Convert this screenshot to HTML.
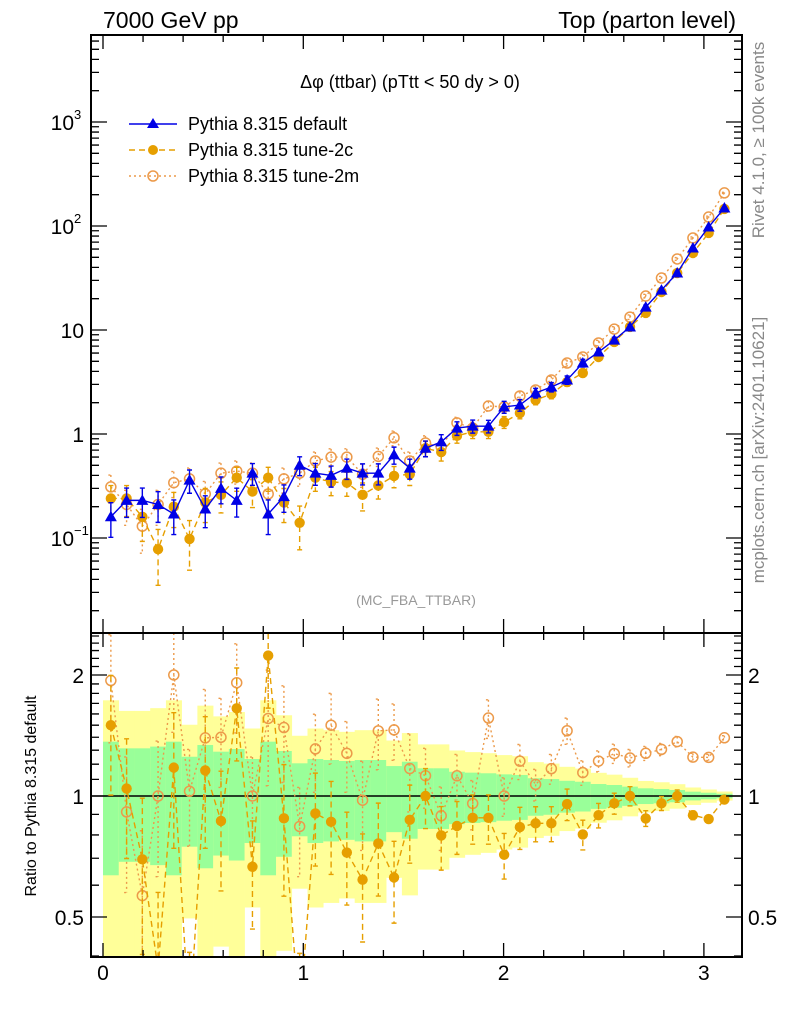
<!DOCTYPE html>
<html><head><meta charset="utf-8"><style>
html,body{margin:0;padding:0;background:#fff;width:786px;height:1024px;overflow:hidden;}
svg{display:block;font-family:"Liberation Sans",Arial,sans-serif;}
</style></head><body>
<svg id="chart" width="786" height="1024" viewBox="0 0 786 1024" xmlns="http://www.w3.org/2000/svg">
<defs>
<clipPath id="clipMain"><rect x="91" y="35" width="651" height="598"/></clipPath>
<clipPath id="clipRatio"><rect x="91" y="633" width="651" height="324"/></clipPath>
</defs>
<text x="103" y="28" font-size="23">7000 GeV pp</text>
<text x="736" y="28" font-size="23" text-anchor="end">Top (parton level)</text>
<text x="410" y="88" font-size="18" text-anchor="middle">Δφ (ttbar) (pTtt &lt; 50 dy &gt; 0)</text>
<text x="416" y="605" font-size="14" fill="#999" text-anchor="middle">(MC_FBA_TTBAR)</text>
<text transform="translate(764,140) rotate(-90)" font-size="17" fill="#888" text-anchor="middle">Rivet 4.1.0, ≥ 100k events</text>
<text transform="translate(764,450) rotate(-90)" font-size="17" fill="#888" text-anchor="middle">mcplots.cern.ch [arXiv:2401.10621]</text>
<text transform="translate(36,796) rotate(-90)" font-size="16" text-anchor="middle">Ratio to Pythia 8.315 default</text>
<g id="bands" clip-path="url(#clipRatio)"></g>
<g id="mainMarks" clip-path="url(#clipMain)"></g>
<g id="ratioMarks" clip-path="url(#clipRatio)"></g>
<g id="axes"></g>
<g id="legend">
  <g>
    <line x1="129" y1="124" x2="177" y2="124" stroke="#0000e6" stroke-width="1.6"/>
    <polygon points="153,118 159,128 147,128" fill="#0000e6"/>
    <text x="188" y="130" font-size="18">Pythia 8.315 default</text>
  </g>
  <g>
    <line x1="129" y1="150" x2="177" y2="150" stroke="#e69f00" stroke-width="1.4" stroke-dasharray="6,4"/>
    <circle cx="153" cy="150" r="5" fill="#e69f00"/>
    <text x="188" y="156" font-size="18">Pythia 8.315 tune-2c</text>
  </g>
  <g>
    <line x1="129" y1="176" x2="177" y2="176" stroke="#ec9a4a" stroke-width="1.4" stroke-dasharray="2,3"/>
    <circle cx="153" cy="176" r="5" fill="none" stroke="#ec9a4a" stroke-width="1.5"/>
    <text x="188" y="182" font-size="18">Pythia 8.315 tune-2m</text>
  </g>
</g>
</svg>
<script>
const nBins = 40;
const xMax = Math.PI;
const valDefault = [0.16,0.23,0.23,0.21,0.17,0.36,0.19,0.30,0.23,0.42,0.17,0.25,0.50,0.42,0.40,0.47,0.42,0.42,0.63,0.47,0.73,0.84,1.14,1.19,1.19,1.82,1.90,2.48,2.83,3.31,4.81,6.14,8.0,10.7,16.6,24.2,35.3,61.4,97.8,149];
const valTune2c = [0.24,0.24,0.16,0.078,0.20,0.098,0.22,0.26,0.38,0.28,0.38,0.22,0.14,0.38,0.345,0.34,0.26,0.32,0.395,0.41,0.73,0.67,0.96,1.05,1.05,1.30,1.59,2.12,2.42,3.16,3.86,5.5,7.67,10.7,14.6,23.2,35.3,55,85.7,146];
const valTune2m = [0.31,0.21,0.13,0.21,0.34,0.37,0.265,0.42,0.44,0.42,0.265,0.37,0.42,0.55,0.60,0.60,0.41,0.61,0.92,0.55,0.82,0.75,1.28,1.14,1.86,1.82,2.32,2.65,3.31,4.81,5.5,7.5,10.2,13.3,21.2,31.6,48.2,76.7,122,208];
const relErrDefault = [0.365,0.314,0.314,0.327,0.365,0.252,0.339,0.289,0.309,0.236,0.365,0.294,0.206,0.236,0.229,0.222,0.229,0.229,0.187,0.217,0.172,0.172,0.149,0.143,0.139,0.132,0.128,0.107,0.102,0.091,0.085,0.071,0.065,0.055,0.045,0.041,0.035,0.025,0.019,0.013];
const relErrTune2c = [0.33,0.33,0.42,0.55,0.37,0.5,0.36,0.33,0.26,0.3,0.26,0.36,0.45,0.26,0.26,0.26,0.3,0.26,0.23,0.22,0.17,0.18,0.15,0.14,0.14,0.13,0.12,0.1,0.1,0.09,0.085,0.07,0.06,0.055,0.045,0.04,0.035,0.025,0.02,0.014];
const relErrTune2m = [0.3,0.37,0.45,0.37,0.28,0.27,0.32,0.25,0.25,0.25,0.32,0.27,0.25,0.22,0.2,0.2,0.25,0.2,0.16,0.22,0.17,0.18,0.13,0.14,0.11,0.11,0.1,0.09,0.085,0.075,0.07,0.06,0.055,0.05,0.04,0.035,0.03,0.022,0.018,0.012];
const xTicks = [0,1,2,3];
const mainYTicks = [-1,0,1,2,3];
const mainYLabels = ["10","1","10","10","10"];
const mainYSups = ["\u22121","","","2","3"];
const ratioTicks = [0.5,1,2];
const ratioLabels = ["0.5","1","2"];

const NS = "http://www.w3.org/2000/svg";
const L = 91, R = 742, MT = 35, MB = 633, RB = 957;
function xs(v){ return 103 + 200.3*v; }
function ym(v){ return 434 - 104*Math.log10(v); }
function yr(v){ return 796 - 402*Math.log10(Math.max(v,1e-3)); }
function clamp(y, lo, hi){ return Math.min(hi, Math.max(lo, y)); }
function el(tag, attrs, parent){
  const e = document.createElementNS(NS, tag);
  for (const k in attrs) e.setAttribute(k, attrs[k]);
  parent.appendChild(e);
  return e;
}
const bw = xMax/nBins;
const bands = document.getElementById('bands');
const mainG = document.getElementById('mainMarks');
const ratioG = document.getElementById('ratioMarks');
const axes = document.getElementById('axes');

for (let i=0;i<nBins;i++){
  const x0 = xs(i*bw), x1 = xs((i+1)*bw), e = relErrDefault[i];
  const yTop2 = clamp(yr(1+2*e), MB, RB), yBot2 = clamp(yr(Math.max(1-2*e,1e-3)), MB, RB);
  const yb = el('rect',{x:x0,y:yTop2,width:x1-x0+0.3,height:yBot2-yTop2,fill:'#ffff99'},bands);
  
  
  const yTop1 = clamp(yr(1+e), MB, RB), yBot1 = clamp(yr(1-e), MB, RB);
  const gb = el('rect',{x:x0,y:yTop1,width:x1-x0+0.3,height:yBot1-yTop1,fill:'#99ff99'},bands);
  
  
}
const one = el('line',{x1:L,x2:R,y1:yr(1),y2:yr(1),stroke:'#000','stroke-width':1.5},bands);



function drawSeries(vals, errs, color, dash, marker, name, g, yfn, isRatio, top, bot){
  const pts = [];
  for (let i=0;i<nBins;i++){
    const xc = xs((i+0.5)*bw);
    let v = vals[i];
    if (isRatio) v = vals[i]/valDefault[i];
    pts.push([xc, yfn(v), v]);
  }
  const line = el('polyline',{points:pts.map(p=>p[0]+','+p[1]).join(' '),fill:'none',stroke:color,'stroke-width':1.4},g);
  if (dash) line.setAttribute('stroke-dasharray',dash);
  
  
  for (let i=0;i<nBins;i++){
    const [xc,yc,v] = pts[i];
    const e = errs[i]*v;
    const yu = clamp(yfn(v+e), top, bot), yd = clamp(yfn(Math.max(v-e, v*0.01)), top, bot);
    const eb = el('path',{d:`M${xc},${yu}V${yd}M${xc-2.5},${yu}H${xc+2.5}M${xc-2.5},${yd}H${xc+2.5}`,stroke:color,'stroke-width':1.4,fill:'none'},g);
    if (dash) eb.setAttribute('stroke-dasharray', dash);
    
    
    let m;
    if (marker==='tri') m = el('polygon',{points:`${xc},${yc-6} ${xc+6},${yc+4.5} ${xc-6},${yc+4.5}`,fill:color},g);
    else if (marker==='dot') m = el('circle',{cx:xc,cy:yc,r:5.2,fill:color},g);
    else m = el('circle',{cx:xc,cy:yc,r:5,fill:'none',stroke:color,'stroke-width':1.5},g);
    
    
  }
}
drawSeries(valTune2m, relErrTune2m, '#ec9a4a', '2,3', 'open', 'tune-2m', mainG, ym, false, MT, MB);
drawSeries(valTune2c, relErrTune2c, '#e69f00', '6,4', 'dot', 'tune-2c', mainG, ym, false, MT, MB);
drawSeries(valDefault, relErrDefault, '#0000e6', null, 'tri', 'default', mainG, ym, false, MT, MB);
drawSeries(valTune2m, relErrTune2m, '#ec9a4a', '2,3', 'open', 'ratio-tune-2m', ratioG, yr, true, MB, RB);
drawSeries(valTune2c, relErrTune2c, '#e69f00', '6,4', 'dot', 'ratio-tune-2c', ratioG, yr, true, MB, RB);

const f1 = el('rect',{x:L,y:MT,width:R-L,height:MB-MT,fill:'none',stroke:'#000','stroke-width':2},axes);


const f2 = el('rect',{x:L,y:MB,width:R-L,height:RB-MB,fill:'none',stroke:'#000','stroke-width':2},axes);



let tp = '';
for (let k=0;k<=16;k++){
  const v = k*0.2; const x = xs(v); if (x>R) break;
  const major = (k%5===0); const len = major?14:7;
  tp += `M${x},${MT}v${len}M${x},${MB}v${-len}M${x},${MB}v${len}M${x},${RB}v${-len}`;
}
for (let d=-2; d<=3; d++){
  for (let m=1;m<=9;m++){
    const v = m*Math.pow(10,d); const y = ym(v);
    if (y<MT||y>MB) continue;
    const len = m===1?16:8;
    tp += `M${L},${y}h${len}M${R},${y}h${-len}`;
  }
}
const rt = [0.4,0.5,0.6,0.7,0.8,0.9,1,1.1,1.2,1.3,1.4,1.5,1.6,1.7,1.8,1.9,2,2.1,2.2,2.3,2.4,2.5];
for (const v of rt){
  const y = yr(v); if (y<MB||y>RB) continue;
  const len = (v===0.5||v===1||v===2)?16:8;
  tp += `M${L},${y}h${len}M${R},${y}h${-len}`;
}
const tpath = el('path',{d:tp,stroke:'#000','stroke-width':1.3,fill:'none'},axes);



for (let i=0;i<xTicks.length;i++){
  const t = el('text',{x:xs(xTicks[i]),y:980,'font-size':21,'text-anchor':'middle'},axes);
  t.textContent = String(xTicks[i]);
  
  
}
for (let i=0;i<mainYTicks.length;i++){
  const y = ym(Math.pow(10,mainYTicks[i]));
  const t = el('text',{x:mainYSups[i]?74:84,y:y+8,'font-size':21,'text-anchor':'end'},axes);
  t.textContent = mainYLabels[i];
  
  
  if (mainYSups[i]){
    const s = el('text',{x:74,y:y-3,'font-size':13},axes);
    s.textContent = mainYSups[i];
    
    
  }
}
for (let i=0;i<ratioTicks.length;i++){
  const y = yr(ratioTicks[i]);
  const t1 = el('text',{x:84,y:y+8,'font-size':21,'text-anchor':'end'},axes);
  t1.textContent = ratioLabels[i];
  
  
  const t2 = el('text',{x:748,y:y+8,'font-size':21},axes);
  t2.textContent = ratioLabels[i];
  
  
}
</script>
</body></html>
